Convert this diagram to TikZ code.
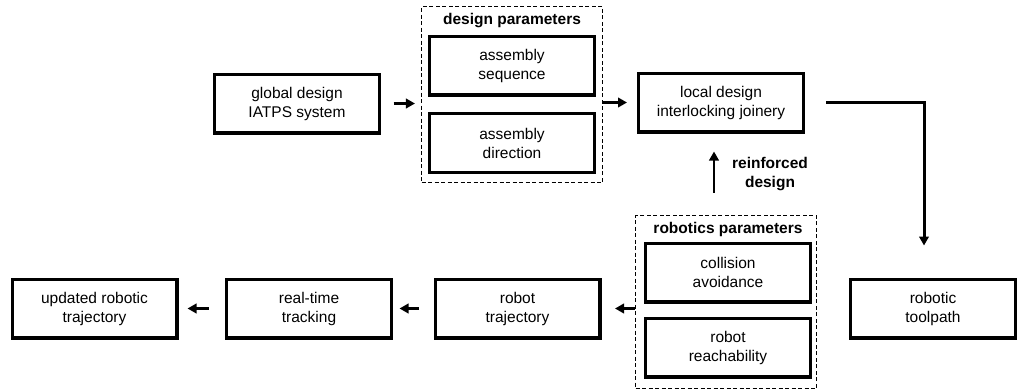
\documentclass[tikz,border=0pt]{standalone}
\usepackage{fontspec}
\setmainfont{Liberation Sans}
\usetikzlibrary{positioning,arrows.meta}

\tikzset{
  stage/.style={draw, line width=3.4pt, minimum width=164.6pt, minimum height=58.6pt,
    align=center, inner sep=2pt, font=\fontsize{15.5}{19}\selectfont},
  group/.style={draw, line width=1.1pt, dash pattern=on 4pt off 2.5pt,
    minimum width=181pt, inner sep=0pt},
  grouptitle/.style={align=center, font=\fontsize{15.5}{19}\selectfont\bfseries},
  flow/.style={line width=2.7pt, -{Triangle[length=9pt,width=9.5pt]}},
}

\begin{document}
\begin{tikzpicture}[x=1pt,y=-1pt]
  \useasboundingbox (0,0) rectangle (1022,391);

  \node[stage] (global) at (297,103.5) {global design\\IATPS system};
  \node[group, minimum height=176pt] (designgroup) at (512,94.5) {};
  \node[grouptitle] (designtitle) at (512,20.5) {design parameters};
  \node[stage] (sequence) at (512,65.5) {assembly\\sequence};
  \node[stage] (direction) at (512,143) {assembly\\direction};
  \node[stage] (local) at (721,102.5) {local design\\interlocking joinery};

  \node[stage] (toolpath) at (933,308.5) {robotic\\toolpath};
  \node[group, minimum height=173pt] (roboticsgroup) at (726,302) {};
  \node[grouptitle] (roboticstitle) at (728,229) {robotics parameters};
  \node[stage] (collision) at (728,272.5) {collision\\avoidance};
  \node[stage] (reach) at (728,347.5) {robot\\reachability};
  \node[stage] (trajectory) at (517.5,308.5) {robot\\trajectory};
  \node[stage] (tracking) at (309,308.5) {real-time\\tracking};
  \node[stage] (updated) at (94.5,308.5) {updated robotic\\trajectory};

  \node[grouptitle] (feedback) at (770,174) {reinforced\\design};

  \draw[flow] ([xshift=12.5pt]global.east) -- ([xshift=-6pt]designgroup.west |- global.east);
  \draw[flow] (designgroup.east |- local.west) -- ([xshift=-10pt]local.west);
  \draw[flow, line width=3pt] ([xshift=21pt]local.east) -| ([xshift=-9pt,yshift=32pt]toolpath.north);
  \draw[flow] ([xshift=-12pt,yshift=22pt]roboticsgroup.north) -- ([xshift=-7pt,yshift=-18pt]local.south);
  \draw[flow] (roboticsgroup.west |- trajectory.east) -- ([xshift=13.5pt]trajectory.east);
  \draw[flow] ([xshift=-14.5pt]trajectory.west) -- ([xshift=6.5pt]tracking.east);
  \draw[flow] ([xshift=-16.5pt]tracking.west) -- ([xshift=9pt]updated.east);
\end{tikzpicture}
\end{document}
